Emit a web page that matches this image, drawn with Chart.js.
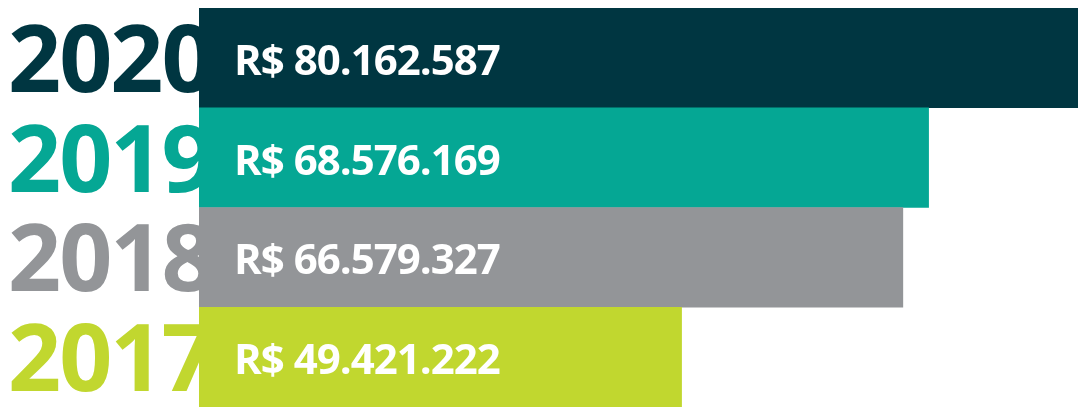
<!DOCTYPE html>
<html lang="pt-BR">
<head>
  <meta charset="UTF-8">
  <title>Receita por ano</title>
  <script src="https://cdn.jsdelivr.net/npm/chart.js"></script>
  <style>
    * { margin: 0; padding: 0; box-sizing: border-box; }
    body { width: 1078px; height: 407px; background: #ffffff; overflow: hidden; }
    #chart { display: block; }
  </style>
</head>
<body>
<canvas id="chart" width="1078" height="407"></canvas>

<script>
  // dados
  const years = ['2020', '2019', '2018', '2017'];
  const values = [80162587, 68576169, 66579327, 49421222];
  const valueLabels = ['R$ 80.162.587', 'R$ 68.576.169', 'R$ 66.579.327', 'R$ 49.421.222'];
  const colors = ['#003641', '#05a794', '#939598', '#c1d72f'];

  // anos grandes atrás das barras
  const yearPlugin = {
    id: 'yearLabels',
    beforeDatasetsDraw(chart) {
      const ctx = chart.ctx;
      const meta = chart.getDatasetMeta(0);
      ctx.save();
      ctx.font = 'bold 93px "Open Sans"';
      ctx.letterSpacing = '-2px';
      ctx.textBaseline = 'alphabetic';
      ctx.textAlign = 'left';
      meta.data.forEach((bar, i) => {
        ctx.fillStyle = colors[i];
        ctx.fillText(years[i], 8, bar.y + 34);
      });
      ctx.restore();
    }
  };

  // valores em branco dentro das barras
  const valuePlugin = {
    id: 'valueLabels',
    afterDatasetsDraw(chart) {
      const ctx = chart.ctx;
      const meta = chart.getDatasetMeta(0);
      ctx.save();
      ctx.font = 'bold 42px "Open Sans"';
      ctx.letterSpacing = '-1px';
      ctx.fillStyle = '#ffffff';
      ctx.textBaseline = 'alphabetic';
      ctx.textAlign = 'left';
      meta.data.forEach((bar, i) => {
        ctx.fillText(valueLabels[i], chart.chartArea.left + 35, bar.y + 17);
      });
      ctx.restore();
    }
  };

  new Chart(document.getElementById('chart'), {
    type: 'bar',
    data: {
      labels: years,
      datasets: [{
        data: values,
        backgroundColor: colors,
        borderWidth: 0,
        categoryPercentage: 1,
        barPercentage: 1
      }]
    },
    options: {
      indexAxis: 'y',
      responsive: false,
      animation: false,
      devicePixelRatio: 1,
      layout: { padding: { left: 199, top: 8, right: 0, bottom: 0 } },
      plugins: {
        legend: { display: false },
        tooltip: { enabled: false }
      },
      scales: {
        x: { display: false, min: 12000000, max: 80162587 },
        y: { display: false }
      }
    },
    plugins: [yearPlugin, valuePlugin]
  });
</script>
</body>
</html>
